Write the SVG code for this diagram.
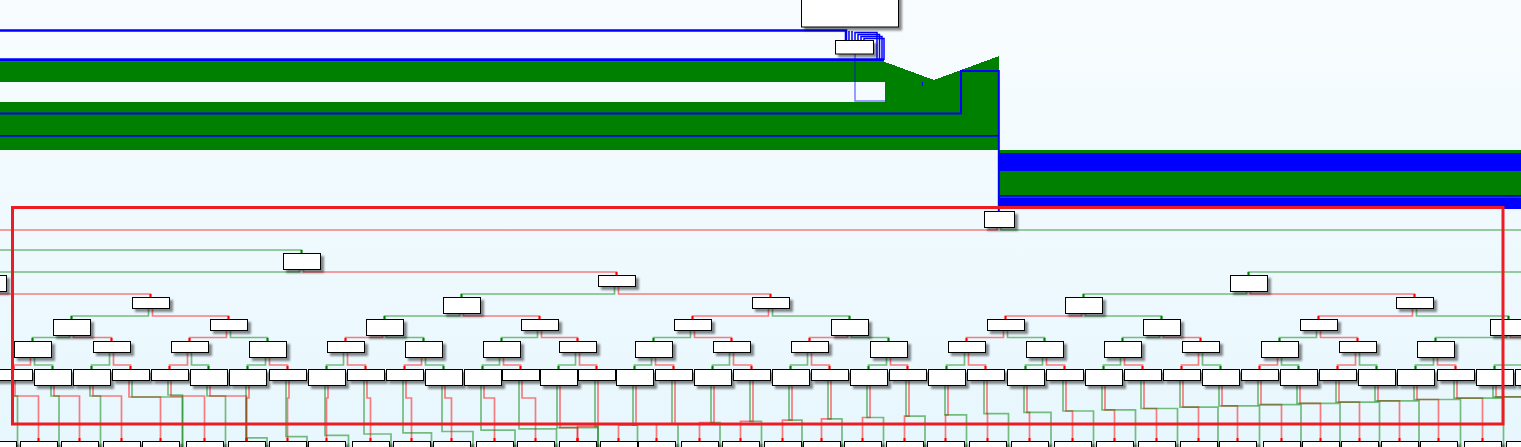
<svg xmlns="http://www.w3.org/2000/svg" width="1521" height="447" viewBox="0 0 1521 447">
<defs>
<linearGradient id="bg" x1="0" y1="0" x2="0" y2="1"><stop offset="0" stop-color="#f8fcff"/><stop offset="1" stop-color="#e7f7fd"/></linearGradient>
<filter id="sh" x="-20%" y="-40%" width="150%" height="200%"><feDropShadow dx="3" dy="3" stdDeviation="1" flood-color="#000" flood-opacity="0.45"/></filter>
<marker id="mg" markerUnits="userSpaceOnUse" markerWidth="3" markerHeight="3" viewBox="-3 -1.5 3 3" refX="0" refY="0" orient="auto"><rect x="-3" y="-1" width="3" height="2" fill="#008000"/></marker>
<marker id="mr" markerUnits="userSpaceOnUse" markerWidth="3" markerHeight="3" viewBox="-3 -1.5 3 3" refX="0" refY="0" orient="auto"><rect x="-3" y="-1" width="3" height="2" fill="#ff0000"/></marker>
</defs>
<style>
.n{fill:#fff;stroke:#000;stroke-width:1;filter:url(#sh)}
.g{fill:none;stroke:#008000;stroke-opacity:.5;stroke-width:1.7;marker-end:url(#mg)}
.r{fill:none;stroke:#ff0000;stroke-opacity:.5;stroke-width:1.7;marker-end:url(#mr)}
.b{fill:none;stroke:#0000ff}
</style>
<rect x="0" y="0" width="1521" height="447" fill="url(#bg)"/>

<g id="flow-bands">
<polygon points="0,62 885,62 934,80 999,56 999,150 0,150" fill="#008000" shape-rendering="crispEdges"/>
<rect x="0" y="82" width="885" height="20" fill="#f6fbff"/>
<rect x="999" y="150" width="522" height="3" fill="#008000"/>
<rect x="999" y="153" width="522" height="18" fill="#0000ff"/>
<rect x="999" y="171" width="522" height="24" fill="#008000"/>
<rect x="999" y="195" width="522" height="14" fill="#0000ff"/>
<rect x="999" y="196.8" width="522" height="1" fill="#008000"/>
<path class="b" stroke-width="2.5" d="M0,30.5 H846 V40"/>
<path class="b" stroke-width="1.5" d="M849,31 V40 M852,31 V40"/>
<path class="b" stroke-width="1.5" d="M855,40 V32.5 H877 V60 M858,40 V34.5 H879.5 V60 M861,40 V36.5 H882 V60 M864,40 V38.5 H884 V60"/>
<path class="b" stroke-width="3.5" d="M0,60 H884"/>
<path class="b" stroke-opacity=".5" stroke-width="1.5" d="M855,54 V101 H885"/>
<path class="b" stroke-width="1" d="M922.5,82 V86"/>
<path class="b" stroke-width="2" d="M0,113.5 H961 V71 H998.8 V211"/>
<path class="b" stroke-width="1.8" d="M0,135.8 H999"/>
</g>

<g id="top-box"><rect class="n" x="801.5" y="-5" width="97" height="32"/></g>
<g id="small-box"><rect class="n" x="835.5" y="40.5" width="38" height="13.5"/></g>

<g id="connectors">
<path class="r" d="M997,227 V230 H-5"/>
<path class="g" d="M1001,227 V230 H1530"/>
<path class="g" d="M-5,250 H301.5 V253"/>
<path class="g" d="M299.5,269 V272 H-12.5 V275"/>
<path class="r" d="M303.5,269 V272 H616.5 V275"/>
<path class="g" d="M1530,272 H1248.5 V275"/>
<path class="r" d="M-10.5,291 V294 H150.5 V297"/>
<path class="g" d="M614.5,286 V294 H461.5 V297"/>
<path class="r" d="M618.5,286 V294 H770.5 V297"/>
<path class="g" d="M1246.5,291 V294 H1083.5 V297"/>
<path class="r" d="M1250.5,291 V294 H1414.5 V297"/>
<path class="g" d="M148.5,308 V316 H71.5 V319"/>
<path class="r" d="M152.5,308 V316 H228.5 V319"/>
<path class="g" d="M459.5,313 V316 H384.5 V319"/>
<path class="r" d="M463.5,313 V316 H539.5 V319"/>
<path class="r" d="M768.5,308 V316 H692.5 V319"/>
<path class="g" d="M772.5,308 V316 H849.5 V319"/>
<path class="r" d="M1081.5,313 V316 H1005.5 V319"/>
<path class="g" d="M1085.5,313 V316 H1161.5 V319"/>
<path class="r" d="M1412.5,308 V316 H1318.5 V319"/>
<path class="g" d="M1416.5,308 V316 H1508.5 V319"/>
<path class="g" d="M69.5,335 V337.5 H32.5 V341"/>
<path class="r" d="M73.5,335 V337.5 H111.5 V341"/>
<path class="r" d="M226.5,330 V337.5 H189.5 V341"/>
<path class="g" d="M230.5,330 V337.5 H267.5 V341"/>
<path class="r" d="M382.5,335 V337.5 H345.5 V341"/>
<path class="g" d="M386.5,335 V337.5 H423.5 V341"/>
<path class="g" d="M537.5,330 V337.5 H501.5 V341"/>
<path class="r" d="M541.5,330 V337.5 H577.5 V341"/>
<path class="g" d="M690.5,330 V337.5 H653.5 V341"/>
<path class="r" d="M694.5,330 V337.5 H731.5 V341"/>
<path class="r" d="M847.5,335 V337.5 H809.5 V341"/>
<path class="g" d="M851.5,335 V337.5 H888.5 V341"/>
<path class="r" d="M1003.5,330 V337.5 H966.5 V341"/>
<path class="g" d="M1007.5,330 V337.5 H1044.5 V341"/>
<path class="g" d="M1159.5,335 V337.5 H1122.5 V341"/>
<path class="r" d="M1163.5,335 V337.5 H1200.5 V341"/>
<path class="g" d="M1316.5,330 V337.5 H1279.5 V341"/>
<path class="r" d="M1320.5,330 V337.5 H1357.5 V341"/>
<path class="g" d="M1506.5,335 V337.5 H1435.5 V341"/>
<path class="r" d="M1510.5,335 V337.5 H1530"/>
<path class="r" d="M30.5,357 V365 H13.5 V369"/>
<path class="g" d="M34.5,357 V365 H52.5 V369"/>
<path class="g" d="M109.5,352 V365 H91.5 V369"/>
<path class="r" d="M113.5,352 V365 H130.5 V369"/>
<path class="r" d="M187.5,352 V365 H169.5 V369"/>
<path class="g" d="M191.5,352 V365 H208.5 V369"/>
<path class="g" d="M265.5,357 V365 H247.5 V369"/>
<path class="r" d="M269.5,357 V365 H287.5 V369"/>
<path class="g" d="M343.5,352 V365 H326.5 V369"/>
<path class="r" d="M347.5,352 V365 H365.5 V369"/>
<path class="r" d="M421.5,357 V365 H404.5 V369"/>
<path class="g" d="M425.5,357 V365 H443.5 V369"/>
<path class="g" d="M499.5,357 V365 H482.5 V369"/>
<path class="r" d="M503.5,357 V365 H520.5 V369"/>
<path class="g" d="M575.5,352 V365 H558.5 V369"/>
<path class="r" d="M579.5,352 V365 H596.5 V369"/>
<path class="g" d="M651.5,357 V365 H634.5 V369"/>
<path class="r" d="M655.5,357 V365 H673.5 V369"/>
<path class="g" d="M729.5,352 V365 H712.5 V369"/>
<path class="r" d="M733.5,352 V365 H751.5 V369"/>
<path class="g" d="M807.5,352 V365 H790.5 V369"/>
<path class="r" d="M811.5,352 V365 H829.5 V369"/>
<path class="g" d="M886.5,357 V365 H868.5 V369"/>
<path class="r" d="M890.5,357 V365 H907.5 V369"/>
<path class="g" d="M964.5,352 V365 H946.5 V369"/>
<path class="r" d="M968.5,352 V365 H985.5 V369"/>
<path class="g" d="M1042.5,357 V365 H1025.5 V369"/>
<path class="r" d="M1046.5,357 V365 H1064.5 V369"/>
<path class="g" d="M1120.5,357 V365 H1103.5 V369"/>
<path class="r" d="M1124.5,357 V365 H1142.5 V369"/>
<path class="r" d="M1198.5,352 V365 H1181.5 V369"/>
<path class="g" d="M1202.5,352 V365 H1220.5 V369"/>
<path class="r" d="M1277.5,357 V365 H1259.5 V369"/>
<path class="g" d="M1281.5,357 V365 H1298.5 V369"/>
<path class="r" d="M1355.5,352 V365 H1337.5 V369"/>
<path class="g" d="M1359.5,352 V365 H1376.5 V369"/>
<path class="g" d="M1433.5,357 V365 H1415.5 V369"/>
<path class="r" d="M1437.5,357 V365 H1455.5 V369"/>
<path class="g" d="M1530,365 H1494.5 V369"/>

<path class="r" d="M15,380 V396 H38.5 V441"/>
<path class="g" d="M12,380 V396 H17.5 V452"/>
<path class="r" d="M54,385 V396 H79.5 V441"/>
<path class="g" d="M51,385 V396 H59 V452"/>
<path class="r" d="M93,385 V396 H121.5 V441"/>
<path class="g" d="M90,385 V396 H100.5 V452"/>
<path class="r" d="M129,380 V397 H160.5 V441"/>
<path class="g" d="M132,380 V397 H182.5 V452"/>
<path class="g" d="M168,380 V395 H182.5 V452"/>
<path class="r" d="M171,380 V396 H204.5 V441"/>
<path class="g" d="M207,385 V396 H225.5 V452"/>
<path class="r" d="M210,385 V396 H246.5 V441"/>
<path class="r" d="M249,385 V398 H246.5 V441"/>
<path class="g" d="M246,385 V437.9 H267 V452"/>
<path class="r" d="M289,380 V398 H287.5 V441"/>
<path class="g" d="M286,380 V436.6 H307 V452"/>
<path class="r" d="M328,385 V398 H326.5 V441"/>
<path class="g" d="M325,385 V435.3 H348.5 V452"/>
<path class="r" d="M367,380 V398 H370.5 V441"/>
<path class="g" d="M364,380 V434 H391 V452"/>
<path class="r" d="M406,380 V398 H411.5 V441"/>
<path class="g" d="M403,380 V432.8 H431.5 V452"/>
<path class="r" d="M445,385 V398 H451.5 V441"/>
<path class="g" d="M442,385 V431.5 H473 V452"/>
<path class="r" d="M484,385 V398 H494.5 V441"/>
<path class="g" d="M481,385 V430.2 H515 V452"/>
<path class="r" d="M522,380 V398 H535.5 V441"/>
<path class="g" d="M519,380 V428.9 H556.5 V452"/>
<path class="r" d="M560,385 V427.7 H577.5 V441"/>
<path class="g" d="M557,385 V427.7 H598 V452"/>
<path class="r" d="M598,380 V426.4 H577.5 V441"/>
<path class="g" d="M595,380 V426.4 H598 V452"/>
<path class="r" d="M636,385 V425.2 H618.5 V441"/>
<path class="g" d="M633,385 V425.2 H637.5 V452"/>
<path class="r" d="M675,380 V423.9 H656.5 V441"/>
<path class="g" d="M672,380 V423.9 H678 V452"/>
<path class="r" d="M714,385 V422.6 H699.5 V441"/>
<path class="g" d="M711,385 V422.6 H720 V452"/>
<path class="r" d="M753,380 V421.3 H740.5 V441"/>
<path class="g" d="M750,380 V421.3 H761.5 V452"/>
<path class="r" d="M792,385 V420.1 H782.5 V441"/>
<path class="g" d="M789,385 V420.1 H802 V452"/>
<path class="r" d="M831,380 V418.8 H821.5 V441"/>
<path class="g" d="M828,380 V418.8 H842 V452"/>
<path class="r" d="M870,385 V417.5 H862.5 V441"/>
<path class="g" d="M867,385 V417.5 H883.5 V452"/>
<path class="r" d="M909,380 V416.2 H904.5 V441"/>
<path class="g" d="M906,380 V416.2 H925 V452"/>
<path class="r" d="M948,385 V414.9 H945.5 V441"/>
<path class="g" d="M945,385 V414.9 H966.5 V452"/>
<path class="r" d="M987,380 V413.6 H987.5 V441"/>
<path class="g" d="M984,380 V413.6 H1008.5 V452"/>
<path class="r" d="M1027,385 V412.3 H1029.5 V441"/>
<path class="g" d="M1024,385 V412.3 H1051 V452"/>
<path class="r" d="M1066,380 V411 H1072.5 V441"/>
<path class="g" d="M1063,380 V411 H1093.5 V452"/>
<path class="r" d="M1105,385 V409.8 H1114.5 V441"/>
<path class="g" d="M1102,385 V409.8 H1135.5 V452"/>
<path class="r" d="M1144,380 V408.5 H1156.5 V441"/>
<path class="g" d="M1141,380 V408.5 H1177.5 V452"/>
<path class="r" d="M1183,380 V407.2 H1198.5 V441"/>
<path class="g" d="M1180,380 V407.2 H1218 V452"/>
<path class="r" d="M1222,385 V405.9 H1237.5 V441"/>
<path class="g" d="M1219,385 V405.9 H1259.5 V452"/>
<path class="r" d="M1261,380 V404.6 H1281.5 V441"/>
<path class="g" d="M1258,380 V404.6 H1301 V452"/>
<path class="r" d="M1300,385 V403.3 H1320.5 V441"/>
<path class="g" d="M1297,385 V403.3 H1340 V452"/>
<path class="r" d="M1339,380 V402.1 H1359.5 V441"/>
<path class="g" d="M1336,380 V402.1 H1379.5 V452"/>
<path class="r" d="M1378,385 V400.8 H1399.5 V441"/>
<path class="g" d="M1375,385 V400.8 H1419 V452"/>
<path class="r" d="M1417,385 V399.5 H1438.5 V441"/>
<path class="g" d="M1414,385 V399.5 H1460.5 V452"/>
<path class="r" d="M1457,380 V398.2 H1482.5 V441"/>
<path class="g" d="M1454,380 V398.2 H1503.5 V452"/>
<path class="r" d="M1496,385 V396.9 H1524.5 V441"/>
<path class="g" d="M1493,385 V396.9 H1530"/>
</g>

<g id="nA"><rect class="n" x="984.5" y="211.5" width="30" height="16"/></g>
<g id="nB"><rect class="n" x="283.5" y="253.5" width="37" height="16"/></g>
<g id="nC0"><rect class="n" x="-30.5" y="275.5" width="37" height="16"/></g>
<g id="nC1"><rect class="n" x="598.5" y="275.5" width="37" height="11"/></g>
<g id="nC2"><rect class="n" x="1230.5" y="275.5" width="37" height="16"/></g>
<g id="nD0"><rect class="n" x="132.5" y="297.5" width="37" height="11"/></g>
<g id="nD1"><rect class="n" x="443.5" y="297.5" width="37" height="16"/></g>
<g id="nD2"><rect class="n" x="752.5" y="297.5" width="37" height="11"/></g>
<g id="nD3"><rect class="n" x="1065.5" y="297.5" width="37" height="16"/></g>
<g id="nD4"><rect class="n" x="1396.5" y="297.5" width="37" height="11"/></g>
<g id="nE0"><rect class="n" x="53.5" y="319.5" width="37" height="16"/></g>
<g id="nE1"><rect class="n" x="210.5" y="319.5" width="37" height="11"/></g>
<g id="nE2"><rect class="n" x="366.5" y="319.5" width="37" height="16"/></g>
<g id="nE3"><rect class="n" x="521.5" y="319.5" width="37" height="11"/></g>
<g id="nE4"><rect class="n" x="674.5" y="319.5" width="37" height="11"/></g>
<g id="nE5"><rect class="n" x="831.5" y="319.5" width="37" height="16"/></g>
<g id="nE6"><rect class="n" x="987.5" y="319.5" width="37" height="11"/></g>
<g id="nE7"><rect class="n" x="1143.5" y="319.5" width="37" height="16"/></g>
<g id="nE8"><rect class="n" x="1300.5" y="319.5" width="37" height="11"/></g>
<g id="nE9"><rect class="n" x="1490.5" y="319.5" width="37" height="16"/></g>
<g id="nF0"><rect class="n" x="14.5" y="341.5" width="37" height="16"/></g>
<g id="nF1"><rect class="n" x="93.5" y="341.5" width="37" height="11"/></g>
<g id="nF2"><rect class="n" x="171.5" y="341.5" width="37" height="11"/></g>
<g id="nF3"><rect class="n" x="249.5" y="341.5" width="37" height="16"/></g>
<g id="nF4"><rect class="n" x="327.5" y="341.5" width="37" height="11"/></g>
<g id="nF5"><rect class="n" x="405.5" y="341.5" width="37" height="16"/></g>
<g id="nF6"><rect class="n" x="483.5" y="341.5" width="37" height="16"/></g>
<g id="nF7"><rect class="n" x="559.5" y="341.5" width="37" height="11"/></g>
<g id="nF8"><rect class="n" x="635.5" y="341.5" width="37" height="16"/></g>
<g id="nF9"><rect class="n" x="713.5" y="341.5" width="37" height="11"/></g>
<g id="nF10"><rect class="n" x="791.5" y="341.5" width="37" height="11"/></g>
<g id="nF11"><rect class="n" x="870.5" y="341.5" width="37" height="16"/></g>
<g id="nF12"><rect class="n" x="948.5" y="341.5" width="37" height="11"/></g>
<g id="nF13"><rect class="n" x="1026.5" y="341.5" width="37" height="16"/></g>
<g id="nF14"><rect class="n" x="1104.5" y="341.5" width="37" height="16"/></g>
<g id="nF15"><rect class="n" x="1182.5" y="341.5" width="37" height="11"/></g>
<g id="nF16"><rect class="n" x="1261.5" y="341.5" width="37" height="16"/></g>
<g id="nF17"><rect class="n" x="1339.5" y="341.5" width="37" height="11"/></g>
<g id="nF18"><rect class="n" x="1417.5" y="341.5" width="37" height="16"/></g>
<g id="nG0"><rect class="n" x="-4.5" y="369.5" width="37" height="11"/></g>
<g id="nG1"><rect class="n" x="34.5" y="369.5" width="37" height="16"/></g>
<g id="nG2"><rect class="n" x="73.5" y="369.5" width="37" height="16"/></g>
<g id="nG3"><rect class="n" x="112.5" y="369.5" width="37" height="11"/></g>
<g id="nG4"><rect class="n" x="151.5" y="369.5" width="37" height="11"/></g>
<g id="nG5"><rect class="n" x="190.5" y="369.5" width="37" height="16"/></g>
<g id="nG6"><rect class="n" x="229.5" y="369.5" width="37" height="16"/></g>
<g id="nG7"><rect class="n" x="269.5" y="369.5" width="37" height="11"/></g>
<g id="nG8"><rect class="n" x="308.5" y="369.5" width="37" height="16"/></g>
<g id="nG9"><rect class="n" x="347.5" y="369.5" width="37" height="11"/></g>
<g id="nG10"><rect class="n" x="386.5" y="369.5" width="37" height="11"/></g>
<g id="nG11"><rect class="n" x="425.5" y="369.5" width="37" height="16"/></g>
<g id="nG12"><rect class="n" x="464.5" y="369.5" width="37" height="16"/></g>
<g id="nG13"><rect class="n" x="502.5" y="369.5" width="37" height="11"/></g>
<g id="nG14"><rect class="n" x="540.5" y="369.5" width="37" height="16"/></g>
<g id="nG15"><rect class="n" x="578.5" y="369.5" width="37" height="11"/></g>
<g id="nG16"><rect class="n" x="616.5" y="369.5" width="37" height="16"/></g>
<g id="nG17"><rect class="n" x="655.5" y="369.5" width="37" height="11"/></g>
<g id="nG18"><rect class="n" x="694.5" y="369.5" width="37" height="16"/></g>
<g id="nG19"><rect class="n" x="733.5" y="369.5" width="37" height="11"/></g>
<g id="nG20"><rect class="n" x="772.5" y="369.5" width="37" height="16"/></g>
<g id="nG21"><rect class="n" x="811.5" y="369.5" width="37" height="11"/></g>
<g id="nG22"><rect class="n" x="850.5" y="369.5" width="37" height="16"/></g>
<g id="nG23"><rect class="n" x="889.5" y="369.5" width="37" height="11"/></g>
<g id="nG24"><rect class="n" x="928.5" y="369.5" width="37" height="16"/></g>
<g id="nG25"><rect class="n" x="967.5" y="369.5" width="37" height="11"/></g>
<g id="nG26"><rect class="n" x="1007.5" y="369.5" width="37" height="16"/></g>
<g id="nG27"><rect class="n" x="1046.5" y="369.5" width="37" height="11"/></g>
<g id="nG28"><rect class="n" x="1085.5" y="369.5" width="37" height="16"/></g>
<g id="nG29"><rect class="n" x="1124.5" y="369.5" width="37" height="11"/></g>
<g id="nG30"><rect class="n" x="1163.5" y="369.5" width="37" height="11"/></g>
<g id="nG31"><rect class="n" x="1202.5" y="369.5" width="37" height="16"/></g>
<g id="nG32"><rect class="n" x="1241.5" y="369.5" width="37" height="11"/></g>
<g id="nG33"><rect class="n" x="1280.5" y="369.5" width="37" height="16"/></g>
<g id="nG34"><rect class="n" x="1319.5" y="369.5" width="37" height="11"/></g>
<g id="nG35"><rect class="n" x="1358.5" y="369.5" width="37" height="16"/></g>
<g id="nG36"><rect class="n" x="1397.5" y="369.5" width="37" height="16"/></g>
<g id="nG37"><rect class="n" x="1437.5" y="369.5" width="37" height="11"/></g>
<g id="nG38"><rect class="n" x="1476.5" y="369.5" width="37" height="16"/></g>
<g id="nG39"><rect class="n" x="1515.5" y="369.5" width="37" height="16"/></g>
<g id="nH-1"><rect class="n" x="-20.5" y="441.5" width="37" height="16"/></g>
<g id="nH0"><rect class="n" x="20.5" y="441.5" width="37" height="16"/></g>
<g id="nH1"><rect class="n" x="61.5" y="441.5" width="37" height="16"/></g>
<g id="nH2"><rect class="n" x="103.5" y="441.5" width="37" height="16"/></g>
<g id="nH3"><rect class="n" x="142.5" y="441.5" width="37" height="16"/></g>
<g id="nH4"><rect class="n" x="186.5" y="441.5" width="37" height="16"/></g>
<g id="nH5"><rect class="n" x="228.5" y="441.5" width="37" height="16"/></g>
<g id="nH6"><rect class="n" x="269.5" y="441.5" width="37" height="16"/></g>
<g id="nH7"><rect class="n" x="308.5" y="441.5" width="37" height="16"/></g>
<g id="nH8"><rect class="n" x="352.5" y="441.5" width="37" height="16"/></g>
<g id="nH9"><rect class="n" x="393.5" y="441.5" width="37" height="16"/></g>
<g id="nH10"><rect class="n" x="433.5" y="441.5" width="37" height="16"/></g>
<g id="nH11"><rect class="n" x="476.5" y="441.5" width="37" height="16"/></g>
<g id="nH12"><rect class="n" x="517.5" y="441.5" width="37" height="16"/></g>
<g id="nH13"><rect class="n" x="559.5" y="441.5" width="37" height="16"/></g>
<g id="nH14"><rect class="n" x="600.5" y="441.5" width="37" height="16"/></g>
<g id="nH15"><rect class="n" x="638.5" y="441.5" width="37" height="16"/></g>
<g id="nH16"><rect class="n" x="681.5" y="441.5" width="37" height="16"/></g>
<g id="nH17"><rect class="n" x="722.5" y="441.5" width="37" height="16"/></g>
<g id="nH18"><rect class="n" x="764.5" y="441.5" width="37" height="16"/></g>
<g id="nH19"><rect class="n" x="803.5" y="441.5" width="37" height="16"/></g>
<g id="nH20"><rect class="n" x="844.5" y="441.5" width="37" height="16"/></g>
<g id="nH21"><rect class="n" x="886.5" y="441.5" width="37" height="16"/></g>
<g id="nH22"><rect class="n" x="927.5" y="441.5" width="37" height="16"/></g>
<g id="nH23"><rect class="n" x="969.5" y="441.5" width="37" height="16"/></g>
<g id="nH24"><rect class="n" x="1011.5" y="441.5" width="37" height="16"/></g>
<g id="nH25"><rect class="n" x="1054.5" y="441.5" width="37" height="16"/></g>
<g id="nH26"><rect class="n" x="1096.5" y="441.5" width="37" height="16"/></g>
<g id="nH27"><rect class="n" x="1138.5" y="441.5" width="37" height="16"/></g>
<g id="nH28"><rect class="n" x="1180.5" y="441.5" width="37" height="16"/></g>
<g id="nH29"><rect class="n" x="1219.5" y="441.5" width="37" height="16"/></g>
<g id="nH30"><rect class="n" x="1263.5" y="441.5" width="37" height="16"/></g>
<g id="nH31"><rect class="n" x="1302.5" y="441.5" width="37" height="16"/></g>
<g id="nH32"><rect class="n" x="1341.5" y="441.5" width="37" height="16"/></g>
<g id="nH33"><rect class="n" x="1381.5" y="441.5" width="37" height="16"/></g>
<g id="nH34"><rect class="n" x="1420.5" y="441.5" width="37" height="16"/></g>
<g id="nH35"><rect class="n" x="1464.5" y="441.5" width="37" height="16"/></g>
<g id="nH36"><rect class="n" x="1506.5" y="441.5" width="37" height="16"/></g>

<g id="frame"><rect x="12.5" y="207.5" width="1490.5" height="216.5" fill="none" stroke="#ed1c24" stroke-width="3"/></g>
</svg>
